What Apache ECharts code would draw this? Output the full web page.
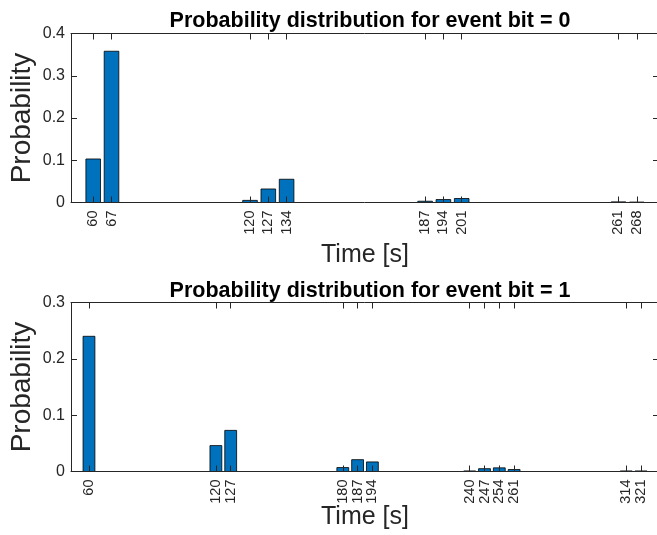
<!DOCTYPE html>
<html>
<head>
<meta charset="utf-8">
<script src="https://cdn.jsdelivr.net/npm/echarts@6/dist/echarts.min.js"></script>
<style>
  html, body { margin: 0; padding: 0; background: #fff; }
  #chart { width: 657px; height: 535px; }
</style>
</head>
<body>
<div id="chart"></div>
<script>
// ---- Data ----
const titles = ['Probability distribution for event bit = 0', 'Probability distribution for event bit = 1'];
const times0 = [60, 67, 120, 127, 134, 187, 194, 201, 261, 268];
const prob0  = [0.103, 0.358, 0.005, 0.032, 0.055, 0.003, 0.007, 0.0095, 0.0015, 0.001];
const times1 = [60, 120, 127, 180, 187, 194, 240, 247, 254, 261, 314, 321];
const prob1  = [0.240, 0.046, 0.073, 0.007, 0.021, 0.017, 0.001, 0.005, 0.0065, 0.0035, 0.001, 0.001];
const xRange0 = [51.5, 276.5];
const xRange1 = [51.5, 329.5];
const yMax0 = 0.4, yMax1 = 0.3, yStep = 0.1;
const barWidthUnits = 5.6;
const xName = 'Time [s]';
const yName = 'Probability';

// ---- Styling ----
const FONT = "'Liberation Sans', Arial, Helvetica, sans-serif";
const AX = '#262626';
const grids = [
  { left: 71, top: 33.5, width: 588, height: 169, containLabel: false, outerBoundsMode: 'none' },
  { left: 71, top: 302.5, width: 588, height: 169, containLabel: false, outerBoundsMode: 'none' }
];

function bottomX(gi, range, ticks, nameGap) {
  // an extra blank label at the axis end keeps ECharts' end-label overlap check
  // from hiding the last real tick label
  const labelValues = ticks.concat([range[1]]);
  return {
    type: 'value', gridIndex: gi, position: 'bottom', min: range[0], max: range[1],
    z: 5,
    name: xName, nameLocation: 'middle', nameGap: nameGap, nameMoveOverlap: false,
    nameTextStyle: { fontFamily: FONT, fontSize: 25, color: AX },
    axisLine: { show: true, onZero: false, lineStyle: { color: AX, width: 1 } },
    axisTick: { show: true, inside: true, length: 6, customValues: ticks, lineStyle: { color: AX } },
    axisLabel: { show: true, customValues: labelValues, rotate: 90, margin: 8, fontFamily: FONT, fontSize: 14.5,
                 color: AX, hideOverlap: false,
                 formatter: v => (ticks.indexOf(Math.round(v)) >= 0 && Math.abs(v - Math.round(v)) < 1e-6) ? String(Math.round(v)) : '' },
    splitLine: { show: false }
  };
}
function topX(gi, range, ticks) {
  return {
    type: 'value', gridIndex: gi, position: 'top', min: range[0], max: range[1], z: 5,
    axisLine: { show: true, onZero: false, lineStyle: { color: AX, width: 1 } },
    axisTick: { show: true, inside: true, length: 6, customValues: ticks, lineStyle: { color: AX } },
    axisLabel: { show: false }, splitLine: { show: false }
  };
}
function leftY(gi, max) {
  return {
    type: 'value', gridIndex: gi, position: 'left', min: 0, max: max, interval: yStep, z: 5,
    name: yName, nameLocation: 'middle', nameGap: 35, nameMoveOverlap: false,
    nameTextStyle: { fontFamily: FONT, fontSize: 28, color: AX },
    axisLine: { show: true, onZero: false, lineStyle: { color: AX, width: 1 } },
    axisTick: { show: true, inside: true, length: 6, lineStyle: { color: AX } },
    axisLabel: { show: true, margin: 6, fontFamily: FONT, fontSize: 16, color: AX,
                 showMinLabel: true, showMaxLabel: true,
                 formatter: v => (Math.round(v * 10) / 10).toString() },
    splitLine: { show: false }
  };
}
function rightY(gi, max) {
  return {
    type: 'value', gridIndex: gi, position: 'right', min: 0, max: max, interval: yStep, z: 5,
    axisLine: { show: true, onZero: false, lineStyle: { color: AX, width: 1 } },
    axisTick: { show: true, inside: true, length: 6, lineStyle: { color: AX } },
    axisLabel: { show: false }, splitLine: { show: false }
  };
}

function barRender(params, api) {
  const x = api.value(0), y = api.value(1);
  const p0 = api.coord([x - barWidthUnits / 2, y]);
  const p1 = api.coord([x + barWidthUnits / 2, 0]);
  return {
    type: 'rect',
    shape: { x: p0[0], y: p0[1], width: p1[0] - p0[0], height: p1[1] - p0[1] },
    style: { fill: '#0072BD', stroke: '#000', lineWidth: 0.8 }
  };
}

const chart = echarts.init(document.getElementById('chart'), null, { renderer: 'canvas' });
chart.setOption({
  backgroundColor: '#fff',
  animation: false,
  title: [
    { text: titles[0], left: 365, top: 5, textAlign: 'center',
      textStyle: { fontFamily: FONT, fontSize: 21.5, fontWeight: 'bold', color: '#000' } },
    { text: titles[1], left: 365, top: 275, textAlign: 'center',
      textStyle: { fontFamily: FONT, fontSize: 21.5, fontWeight: 'bold', color: '#000' } }
  ],
  grid: grids,
  xAxis: [
    bottomX(0, xRange0, times0, 40), topX(0, xRange0, times0),
    bottomX(1, xRange1, times1, 33), topX(1, xRange1, times1)
  ],
  yAxis: [
    leftY(0, yMax0), rightY(0, yMax0),
    leftY(1, yMax1), rightY(1, yMax1)
  ],
  series: [
    { type: 'custom', xAxisIndex: 0, yAxisIndex: 0, renderItem: barRender,
      data: times0.map((t, i) => [t, prob0[i]]), z: 2 },
    { type: 'custom', xAxisIndex: 2, yAxisIndex: 2, renderItem: barRender,
      data: times1.map((t, i) => [t, prob1[i]]), z: 2 }
  ]
});
</script>
</body>
</html>
